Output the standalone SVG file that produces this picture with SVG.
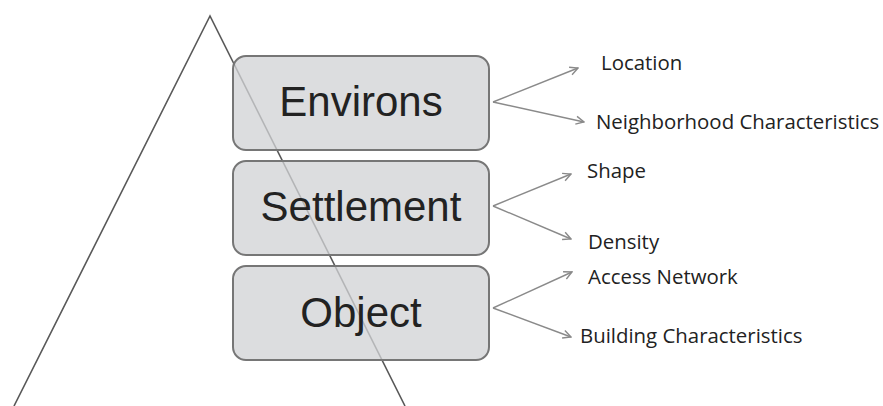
<svg xmlns="http://www.w3.org/2000/svg" width="883" height="406" viewBox="0 0 883 406">
<style>
.tri{fill:none;stroke:#595959;stroke-width:1.6}
.box{fill:rgb(209,210,213);fill-opacity:0.76;stroke:#767676;stroke-width:2}
.big{font-family:"Liberation Sans",Arial,sans-serif;font-size:42px;fill:#222;text-anchor:middle}
.lbl{font-family:"Open Sans","Noto Sans",sans-serif;font-size:20.4px;fill:#222}
.con{fill:none;stroke:#8a8a8a;stroke-width:1.4}
</style>
<defs>
<marker id="arr" viewBox="0 0 10 10" refX="9" refY="5" markerWidth="10" markerHeight="10" markerUnits="userSpaceOnUse" orient="auto">
<path d="M1,1 L9,5 L1,9" fill="none" stroke="#8a8a8a" stroke-width="1.4"/>
</marker>
</defs>
<g id="pyramid">
<polyline class="tri" points="14,406 210,16 405,406"/>
</g>
<g id="node-environs">
<rect class="box" x="233" y="56" width="256" height="94" rx="13"/>
<text class="big" x="361" y="116">Environs</text>
</g>
<g id="node-settlement">
<rect class="box" x="233" y="161" width="256" height="94" rx="13"/>
<text class="big" x="361" y="221">Settlement</text>
</g>
<g id="node-object">
<rect class="box" x="233" y="266" width="256" height="94" rx="13"/>
<text class="big" x="361" y="327">Object</text>
</g>
<g id="connectors">
<path class="con" d="M493,102 L578,68" marker-end="url(#arr)"/>
<path class="con" d="M493,102 L584,122" marker-end="url(#arr)"/>
<path class="con" d="M493,206 L571,174" marker-end="url(#arr)"/>
<path class="con" d="M493,206 L571,239" marker-end="url(#arr)"/>
<path class="con" d="M493,308 L572,272" marker-end="url(#arr)"/>
<path class="con" d="M493,308 L571,337" marker-end="url(#arr)"/>
</g>
<g id="node-location"><text class="lbl" x="601" y="70">Location</text></g>
<g id="node-neighborhood"><text class="lbl" x="596" y="129">Neighborhood Characteristics</text></g>
<g id="node-shape"><text class="lbl" x="587" y="178">Shape</text></g>
<g id="node-density"><text class="lbl" x="588" y="249">Density</text></g>
<g id="node-access"><text class="lbl" x="588" y="284">Access Network</text></g>
<g id="node-building"><text class="lbl" x="580" y="343">Building Characteristics</text></g>
</svg>
